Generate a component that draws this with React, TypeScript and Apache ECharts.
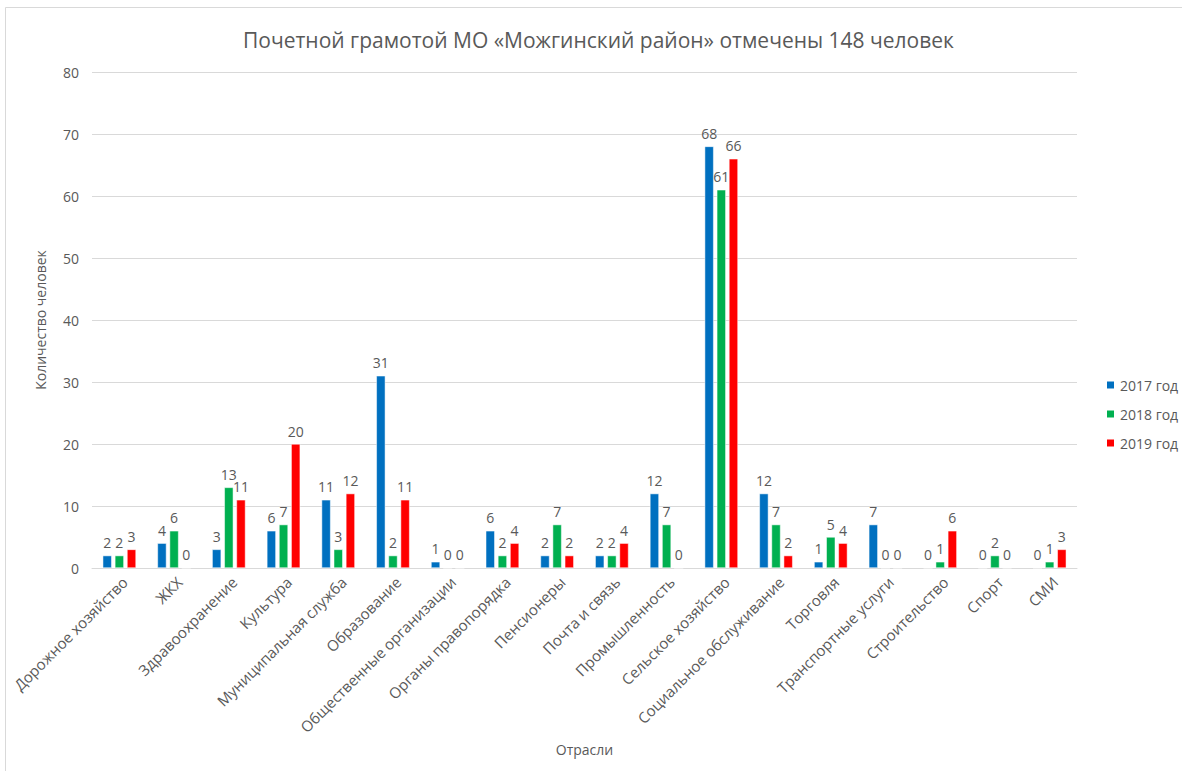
import React, { useEffect, useRef } from "react";
import * as echarts from "echarts";

const categories = [
  "Дорожное хозяйство",
  "ЖКХ",
  "Здравоохранение",
  "Культура",
  "Муниципальная служба",
  "Образование",
  "Общественные организации",
  "Органы правопорядка",
  "Пенсионеры",
  "Почта и связь",
  "Промышленность",
  "Сельское хозяйство",
  "Социальное обслуживание",
  "Торговля",
  "Транспортные услуги",
  "Строительство",
  "Спорт",
  "СМИ",
];

const y2017 = [2, 4, 3, 6, 11, 31, 1, 6, 2, 2, 12, 68, 12, 1, 7, 0, 0, 0];
const y2018 = [2, 6, 13, 7, 3, 2, 0, 2, 7, 2, 7, 61, 7, 5, 0, 1, 2, 1];
const y2019 = [3, 0, 11, 20, 12, 11, 0, 4, 2, 4, 0, 66, 2, 4, 0, 6, 0, 3];

const seriesNames = ["2017 год", "2018 год", "2019 год"];
const colors = ["#0070C0", "#00B050", "#FF0000"];

const FONT = "'Open Sans', sans-serif";
const GREY = "#595959";

export default function App() {
  const ref = useRef<HTMLDivElement>(null);
  useEffect(() => {
    document.body.style.margin = "0";
    const chart = echarts.init(ref.current!, null, { renderer: "svg" });
    const data = [y2017, y2018, y2019];
    chart.setOption({
      animation: false,
      backgroundColor: "#ffffff",
      textStyle: { fontFamily: FONT },
      title: {
        text: "Почетной грамотой МО «Можгинский район» отмечены 148 человек",
        left: 238,
        top: 24,
        textStyle: { fontSize: 21, fontWeight: "normal", color: GREY, fontFamily: FONT },
      },
      legend: {
        orient: "vertical",
        left: 1105,
        top: 378,
        padding: 0,
        itemWidth: 9,
        itemHeight: 9,
        itemGap: 15,
        icon: "rect",
        textStyle: { fontSize: 14, lineHeight: 14, color: GREY, fontFamily: FONT },
        data: seriesNames,
      },
      grid: { left: 92, right: 105, top: 72, bottom: 203, containLabel: false },
      xAxis: {
        type: "category",
        data: categories,
        name: "Отрасли",
        nameLocation: "middle",
        nameGap: 166,
        nameTextStyle: { fontSize: 14, color: GREY, fontFamily: FONT },
        axisLine: { lineStyle: { color: "#D9D9D9" } },
        axisTick: { show: false },
        axisLabel: {
          rotate: 45,
          interval: 0,
          fontSize: 15,
          color: GREY,
          fontFamily: FONT,
          margin: 6,
          verticalAlign: "top",
        },
      },
      yAxis: {
        type: "value",
        min: 0,
        max: 80,
        interval: 10,
        name: "Количество человек",
        nameLocation: "middle",
        nameGap: 45,
        nameTextStyle: { fontSize: 14, color: GREY, fontFamily: FONT },
        axisLine: { show: false },
        axisTick: { show: false },
        axisLabel: { fontSize: 14, color: GREY, fontFamily: FONT, margin: 13 },
        splitLine: { lineStyle: { color: "#D9D9D9" } },
      },
      graphic: [
        {
          type: "rect",
          shape: { x: 5.5, y: 7.5, width: 1180, height: 770 },
          style: { fill: "none", stroke: "#D9D9D9", lineWidth: 1 },
          silent: true,
        },
      ],
      series: data.map((d, i) => ({
        name: seriesNames[i],
        type: "bar",
        data: d,
        barWidth: 9,
        barGap: "35%",
        itemStyle: { color: colors[i], borderColor: "#ffffff", borderWidth: 0.5 },
        label: {
          show: true,
          position: "top",
          distance: 6,
          fontSize: 14,
          color: GREY,
          fontFamily: FONT,
        },
      })),
    });
    return () => chart.dispose();
  }, []);
  return <div ref={ref} style={{ width: 1182, height: 771 }} />;
}
